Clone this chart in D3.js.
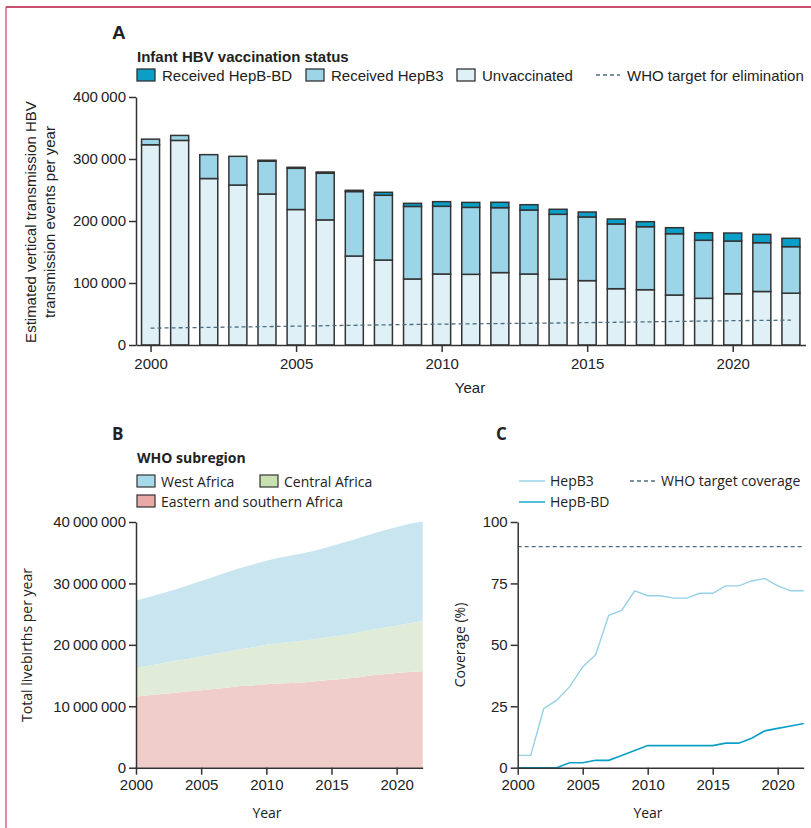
<!DOCTYPE html>
<html>
<head>
<meta charset="utf-8">
<script src="https://cdn.jsdelivr.net/npm/d3@7"></script>
<style>
  body { margin: 0; background: #fff; }
  svg { display: block; }
  .narrow { font-family: "Liberation Sans", Arial, sans-serif; }
  .wide { font-family: "Open Sans", "Noto Sans", sans-serif; }
  .axis path, .axis line { stroke: #333; stroke-width: 1.5; }
  .axis text { fill: #222; }
</style>
</head>
<body>
<div id="chart"></div>
<script>
// ---- data ----
const years = d3.range(2000, 2023);

// Panel A: estimated vertical transmission events by infant vaccination status
const unvaccinated = [323000, 330000, 268500, 258000, 243500, 218500, 201800, 143500, 137000, 106500, 114500, 114000,
  116800, 114500, 106000, 103800, 90800, 89200, 80600, 75300, 82700, 86300, 83600];
const hepB3 = [9000, 8000, 38500, 46300, 53000, 66500, 75200, 104000, 104500, 117000, 109200, 108000,
  104700, 103200, 104800, 102700, 104400, 101600, 98900, 93600, 85000, 78700, 75000];
const hepBBD = [0, 0, 0, 0, 1500, 1600, 2000, 2000, 4800, 5000, 7500, 8000,
  8700, 8600, 8100, 8000, 8000, 8100, 9700, 12200, 12900, 13500, 13500];
const whoTarget = [27200, 27800, 28400, 29000, 29700, 30400, 31100, 31800, 32500, 33100, 33700, 34200,
  34600, 35000, 35500, 36100, 36700, 37300, 38000, 38600, 39200, 39700, 40100];

// Panel B: total livebirths per year by WHO subregion
const eastSouthAfrica = [11600000, 11800000, 12000000, 12200000, 12400000, 12600000, 12800000, 13000000, 13300000,
  13400000, 13600000, 13700000, 13800000, 13900000, 14100000, 14300000, 14500000, 14700000, 15000000, 15200000,
  15400000, 15600000, 15700000];
const centralAfrica = [4700000, 4800000, 5000000, 5200000, 5300000, 5500000, 5700000, 5900000, 6000000, 6200000,
  6400000, 6600000, 6700000, 6800000, 6900000, 7000000, 7100000, 7300000, 7400000, 7600000, 7700000, 7900000, 8200000];
const westAfrica = [10900000, 11200000, 11400000, 11600000, 12000000, 12300000, 12600000, 12900000, 13200000,
  13500000, 13700000, 13900000, 14100000, 14300000, 14500000, 14800000, 15100000, 15300000, 15600000, 15800000,
  16100000, 16200000, 16200000];

// Panel C: coverage (%)
const hepB3Coverage = [5, 5, 24, 27.5, 33, 41, 46, 62, 64, 72, 70, 70, 69, 69, 71, 71, 74, 74, 76, 77, 74, 72, 72];
const hepBBDCoverage = [0, 0, 0, 0, 2, 2, 3, 3, 5, 7, 9, 9, 9, 9, 9, 9, 10, 10, 12, 15, 16, 17, 18];
const whoTargetCoverage = 90;

const xTicks = [2000, 2005, 2010, 2015, 2020];
const tickFmt = d => d3.format(",")(d).replace(/,/g, "\u2009");

const W = 811, H = 828;
const svg = d3.select('#chart').append('svg').attr('width', W).attr('height', H);

// page frame
svg.append('line').attr('x1', 6).attr('x2', W).attr('y1', 7).attr('y2', 7)
  .attr('stroke', '#b8163f').attr('stroke-width', 1.5);
svg.append('line').attr('x1', 6).attr('x2', 6).attr('y1', 7).attr('y2', H)
  .attr('stroke', '#d63a62').attr('stroke-width', 1.2);

const colBD = '#0a9fc6', colB3 = '#9dd5e8', colUn = '#dff0f7';
const dashCol = '#4d6e7e';

// ---------- Panel A ----------
function drawPanelA() {
  const g = svg.append('g').attr('class', 'narrow');
  const x = d3.scaleLinear().domain([1999.5, 2022.5]).range([136, 805.5]);
  const y = d3.scaleLinear().domain([0, 400000]).range([345, 97]);
  const bw = 18;

  const rows = years.map((yr, i) => ({ yr, un: unvaccinated[i], b3: hepB3[i], bd: hepBBD[i] }));
  const stack = d3.stack().keys(['un', 'b3', 'bd'])(rows);
  const fills = { un: colUn, b3: colB3, bd: colBD };

  stack.forEach(layer => {
    g.append('g').selectAll('rect')
      .data(layer.filter(d => d[1] - d[0] > 0))
      .enter().append('rect')
      .attr('x', d => x(d.data.yr) - bw / 2)
      .attr('width', bw)
      .attr('y', d => y(d[1]))
      .attr('height', d => y(d[0]) - y(d[1]))
      .attr('fill', fills[layer.key])
      .attr('stroke', '#333')
      .attr('stroke-width', 1.5);
  });

  g.append('path')
    .datum(years.map((yr, i) => [yr, whoTarget[i]]))
    .attr('fill', 'none').attr('stroke', dashCol).attr('stroke-width', 1.3)
    .attr('stroke-dasharray', '4,3')
    .attr('d', d3.line().x(d => x(d[0])).y(d => y(d[1])));

  g.append('g').attr('class', 'axis')
    .attr('transform', 'translate(136,0)')
    .call(d3.axisLeft(y).tickValues([0, 100000, 200000, 300000, 400000]).tickFormat(tickFmt).tickSize(7).tickSizeOuter(0))
    .selectAll('text').style('font-size', '15px');
  g.append('g').attr('class', 'axis')
    .attr('transform', 'translate(0,345)')
    .call(d3.axisBottom(x).tickValues(xTicks).tickFormat(d3.format('d')).tickSize(7).tickSizeOuter(0))
    .selectAll('text').style('font-size', '15px').attr('dy', '0.95em');

  g.append('text').attr('x', 470).attr('y', 393).attr('text-anchor', 'middle')
    .style('font-size', '15px').attr('fill', '#222').text('Year');
  const yl = g.append('text').attr('transform', 'translate(36,222) rotate(-90)')
    .attr('text-anchor', 'middle').style('font-size', '15px').attr('fill', '#222');
  yl.append('tspan').attr('x', 0).attr('dy', 0).text('Estimated vertical transmission HBV');
  yl.append('tspan').attr('x', 0).attr('dy', '1.25em').text('transmission events per year');

  g.append('text').attr('x', 112).attr('y', 39).style('font-size', '19px').style('font-weight', 'bold')
    .attr('fill', '#222').text('A');
  g.append('text').attr('x', 137).attr('y', 62).style('font-size', '15px').style('font-weight', 'bold')
    .attr('fill', '#222').text('Infant HBV vaccination status');

  const leg = [
    { label: 'Received HepB-BD', fill: colBD, x: 137 },
    { label: 'Received HepB3', fill: colB3, x: 306 },
    { label: 'Unvaccinated', fill: colUn, x: 457 }
  ];
  leg.forEach(l => {
    g.append('rect').attr('x', l.x).attr('y', 69).attr('width', 18).attr('height', 12)
      .attr('fill', l.fill).attr('stroke', '#333').attr('stroke-width', 1.3);
    g.append('text').attr('x', l.x + 25).attr('y', 81).style('font-size', '15px').attr('fill', '#222').text(l.label);
  });
  g.append('line').attr('x1', 596).attr('x2', 620).attr('y1', 75).attr('y2', 75)
    .attr('stroke', dashCol).attr('stroke-width', 1.3).attr('stroke-dasharray', '4,3');
  g.append('text').attr('x', 627).attr('y', 81).style('font-size', '15px').attr('fill', '#222')
    .text('WHO target for elimination');
}

// ---------- Panel B ----------
function drawPanelB() {
  const g = svg.append('g').attr('class', 'wide');
  const x = d3.scaleLinear().domain([2000, 2022]).range([136, 422.7]);
  const y = d3.scaleLinear().domain([0, 40000000]).range([767.7, 522]);

  const rows = years.map((yr, i) => ({ yr, east: eastSouthAfrica[i], central: centralAfrica[i], west: westAfrica[i] }));
  const stack = d3.stack().keys(['east', 'central', 'west'])(rows);
  const fills = { east: '#f0cdc8', central: '#e1ecd8', west: '#c9e6f0' };
  const area = d3.area().x(d => x(d.data.yr)).y0(d => y(d[0])).y1(d => y(d[1]));

  g.selectAll('.layer').data(stack).enter().append('path')
    .attr('fill', d => fills[d.key]).attr('d', area);

  g.append('g').attr('class', 'axis')
    .attr('transform', 'translate(136,0)')
    .call(d3.axisLeft(y).tickValues([0, 10000000, 20000000, 30000000, 40000000]).tickFormat(tickFmt).tickSize(7).tickSizeOuter(0))
    .selectAll('text').style('font-size', '15px');
  g.append('g').attr('class', 'axis')
    .attr('transform', 'translate(0,767.7)')
    .call(d3.axisBottom(x).tickValues(xTicks).tickFormat(d3.format('d')).tickSize(7).tickSizeOuter(0))
    .selectAll('text').style('font-size', '15px').attr('dy', '0.8em');

  g.append('text').attr('x', 267).attr('y', 818).attr('text-anchor', 'middle')
    .style('font-size', '14px').attr('fill', '#222').text('Year');
  g.append('text').attr('transform', 'translate(32,645) rotate(-90)').attr('text-anchor', 'middle')
    .style('font-size', '14px').attr('fill', '#222').text('Total livebirths per year');

  g.append('text').attr('x', 112).attr('y', 440).style('font-size', '17px').style('font-weight', 'bold')
    .attr('fill', '#222').text('B');
  g.append('text').attr('x', 137).attr('y', 463).style('font-size', '14px').style('font-weight', 'bold')
    .attr('fill', '#222').text('WHO subregion');

  const leg = [
    { label: 'West Africa', fill: '#a6d9ea', x: 137, y: 475 },
    { label: 'Central Africa', fill: '#c9e1b2', x: 260, y: 475 },
    { label: 'Eastern and southern Africa', fill: '#e9a9a6', x: 137, y: 495 }
  ];
  leg.forEach(l => {
    g.append('rect').attr('x', l.x).attr('y', l.y).attr('width', 18).attr('height', 12)
      .attr('fill', l.fill).attr('stroke', '#333').attr('stroke-width', 1.2);
    g.append('text').attr('x', l.x + 24).attr('y', l.y + 12).style('font-size', '14px').attr('fill', '#222').text(l.label);
  });
}

// ---------- Panel C ----------
function drawPanelC() {
  const g = svg.append('g').attr('class', 'wide');
  const x = d3.scaleLinear().domain([2000, 2022]).range([517.7, 803.7]);
  const y = d3.scaleLinear().domain([0, 100]).range([767.7, 522]);
  const line = d3.line().x(d => x(d[0])).y(d => y(d[1]));

  g.append('line').attr('x1', x(2000)).attr('x2', x(2022))
    .attr('y1', y(whoTargetCoverage)).attr('y2', y(whoTargetCoverage))
    .attr('stroke', dashCol).attr('stroke-width', 1.3).attr('stroke-dasharray', '4,3');

  g.append('path').datum(years.map((yr, i) => [yr, hepB3Coverage[i]]))
    .attr('fill', 'none').attr('stroke', '#96d0e6').attr('stroke-width', 1.4).attr('d', line);
  g.append('path').datum(years.map((yr, i) => [yr, hepBBDCoverage[i]]))
    .attr('fill', 'none').attr('stroke', '#0a9fc6').attr('stroke-width', 1.6).attr('d', line);

  g.append('g').attr('class', 'axis')
    .attr('transform', `translate(${x(2000)},0)`)
    .call(d3.axisLeft(y).tickValues([0, 25, 50, 75, 100]).tickSize(7).tickSizeOuter(0))
    .selectAll('text').style('font-size', '15px');
  g.append('g').attr('class', 'axis')
    .attr('transform', 'translate(0,767.7)')
    .call(d3.axisBottom(x).tickValues(xTicks).tickFormat(d3.format('d')).tickSize(7).tickSizeOuter(0))
    .selectAll('text').style('font-size', '15px').attr('dy', '0.8em');

  g.append('text').attr('x', 648).attr('y', 818).attr('text-anchor', 'middle')
    .style('font-size', '14px').attr('fill', '#222').text('Year');
  g.append('text').attr('transform', 'translate(465,645) rotate(-90)').attr('text-anchor', 'middle')
    .style('font-size', '14px').attr('fill', '#222').text('Coverage (%)');

  g.append('text').attr('x', 496).attr('y', 440).style('font-size', '17px').style('font-weight', 'bold')
    .attr('fill', '#222').text('C');

  const leg = [
    { label: 'HepB3', col: '#96d0e6', x: 519, y: 481, dash: null },
    { label: 'HepB-BD', col: '#0a9fc6', x: 519, y: 502, dash: null },
    { label: 'WHO target coverage', col: dashCol, x: 630, y: 481, dash: '4,3' }
  ];
  leg.forEach(l => {
    g.append('line').attr('x1', l.x).attr('x2', l.x + 26).attr('y1', l.y).attr('y2', l.y)
      .attr('stroke', l.col).attr('stroke-width', 1.4).attr('stroke-dasharray', l.dash);
    g.append('text').attr('x', l.x + 31).attr('y', l.y + 5).style('font-size', '14px').attr('fill', '#222').text(l.label);
  });
}

drawPanelA();
drawPanelB();
drawPanelC();
</script>
</body>
</html>
